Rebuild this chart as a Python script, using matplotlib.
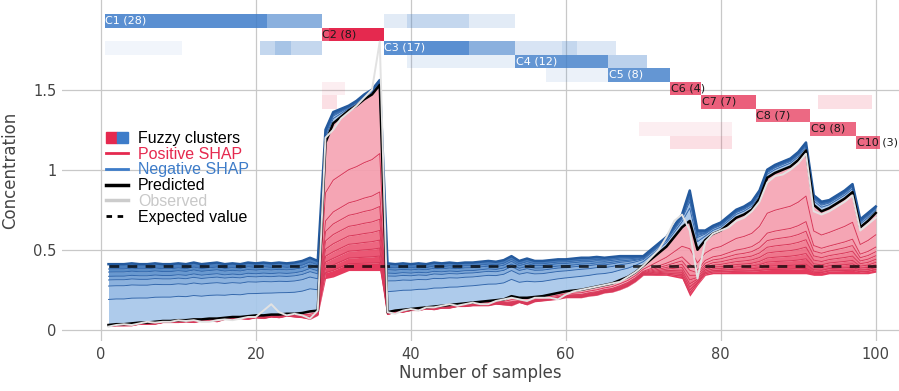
import numpy as np
import matplotlib
matplotlib.use("Agg")
import matplotlib.pyplot as plt
from matplotlib.lines import Line2D
from matplotlib.patches import Patch
from matplotlib.legend_handler import HandlerTuple
from matplotlib.colors import to_rgba

# ---- data ----
samples = np.arange(1, 101)
expected_value = 0.40

predicted = [
    # 1-28
    0.03, 0.035, 0.035, 0.04, 0.045, 0.045, 0.05, 0.055, 0.055, 0.06,
    0.06, 0.065, 0.065, 0.07, 0.07, 0.075, 0.08, 0.08, 0.085, 0.09,
    0.09, 0.095, 0.095, 0.1, 0.1, 0.105, 0.115, 0.12,
    # 29-36
    1.17, 1.29, 1.33, 1.37, 1.40, 1.44, 1.47, 1.53,
    # 37-69
    0.11, 0.12, 0.125, 0.13, 0.135, 0.14, 0.145, 0.15, 0.155, 0.16,
    0.165, 0.17, 0.175, 0.18, 0.185, 0.19, 0.21, 0.2, 0.2, 0.205,
    0.21, 0.22, 0.23, 0.24, 0.245, 0.25, 0.26, 0.27, 0.28, 0.29,
    0.31, 0.33, 0.36,
    # 70-100
    0.40, 0.44, 0.48, 0.52, 0.58, 0.64, 0.68, 0.50, 0.56, 0.60,
    0.62, 0.66, 0.70, 0.72, 0.75, 0.82, 0.95, 0.98, 1.00, 1.02,
    1.06, 1.12, 0.78, 0.74, 0.76, 0.79, 0.82, 0.86, 0.64, 0.68, 0.73,
]

observed = [
    0.02, 0.03, 0.035, 0.03, 0.04, 0.05, 0.045, 0.05, 0.05, 0.06,
    0.055, 0.06, 0.05, 0.05, 0.06, 0.065, 0.06, 0.07, 0.08, 0.08,
    0.12, 0.16, 0.11, 0.09, 0.1, 0.09, 0.07, 0.12,
    1.2, 1.25, 1.32, 1.36, 1.40, 1.45, 1.5, 1.8,
    0.11, 0.10, 0.12, 0.13, 0.12, 0.14, 0.14, 0.15, 0.16, 0.15,
    0.16, 0.17, 0.16, 0.16, 0.18, 0.19, 0.2, 0.19, 0.18, 0.2,
    0.2, 0.2, 0.19, 0.22, 0.24, 0.25, 0.26, 0.27, 0.28, 0.29,
    0.3, 0.33, 0.36,
    0.40, 0.45, 0.50, 0.58, 0.68, 0.72, 0.62, 0.32, 0.55, 0.6,
    0.62, 0.64, 0.68, 0.7, 0.74, 0.8, 0.92, 0.96, 0.97, 1.0,
    1.04, 1.1, 0.74, 0.72, 0.74, 0.77, 0.8, 0.84, 0.62, 0.66, 0.7,
]

# total positive SHAP per sample (negative total = E + pos - pred)
positive_total = [
    0.01, 0.01, 0.01, 0.015, 0.01, 0.01, 0.015, 0.01, 0.01, 0.015,
    0.01, 0.02, 0.01, 0.015, 0.02, 0.01, 0.015, 0.01, 0.02, 0.015,
    0.02, 0.015, 0.02, 0.015, 0.02, 0.03, 0.05, 0.03,
    0.85, 0.96, 0.98, 1.00, 1.03, 1.07, 1.10, 1.16,
    0.015, 0.01, 0.015, 0.01, 0.015, 0.01, 0.02, 0.015, 0.02, 0.015,
    0.02, 0.02, 0.025, 0.03, 0.025, 0.035, 0.06, 0.03, 0.045, 0.03,
    0.03, 0.035, 0.04, 0.04, 0.045, 0.05, 0.05, 0.055, 0.05, 0.055,
    0.06, 0.06, 0.06,
    0.06, 0.10, 0.14, 0.18, 0.25, 0.32, 0.47, 0.22, 0.22, 0.25,
    0.27, 0.31, 0.35, 0.37, 0.40, 0.47, 0.60, 0.63, 0.65, 0.67,
    0.71, 0.77, 0.44, 0.40, 0.41, 0.44, 0.47, 0.51, 0.29, 0.33, 0.37,
]

# share of each feature layer in the stacks (from the prediction line outwards)
red_shares = [0.043, 0.035, 0.043, 0.043, 0.052, 0.06, 0.069, 0.078, 0.207, 0.37]
blue_shares = [0.42, 0.22, 0.10, 0.06, 0.07, 0.05, 0.08]

cluster_names = ["C1", "C2", "C3", "C4", "C5", "C6", "C7", "C8", "C9", "C10"]
cluster_counts = [28, 8, 17, 12, 8, 4, 7, 7, 8, 3]
cluster_positive = [False, True, False, False, False, True, True, True, True, True]
cluster_label_at = [1, 29, 37, 54, 66, 74, 78, 85, 92, 98]
# fuzzy membership: (first sample, last sample, membership)
cluster_segments = [
    [(1, 21, 0.85), (22, 28, 0.6), (37, 39, 0.15), (40, 47, 0.3), (48, 53, 0.15)],
    [(29, 29, 0.8), (30, 36, 1.0)],
    [(1, 10, 0.07), (21, 22, 0.3), (23, 24, 0.45), (25, 28, 0.3), (37, 47, 0.85),
     (48, 53, 0.6), (54, 59, 0.2), (60, 61, 0.3), (62, 66, 0.18)],
    [(40, 53, 0.12), (54, 65, 0.8), (66, 70, 0.35)],
    [(58, 65, 0.1), (66, 73, 0.8)],
    [(29, 31, 0.08), (74, 77, 0.75)],
    [(29, 30, 0.15), (78, 84, 0.75), (93, 99, 0.15)],
    [(85, 91, 0.7)],
    [(70, 81, 0.08), (92, 97, 0.7)],
    [(74, 81, 0.15), (98, 100, 0.7)],
]

# ---- styling ----
RED = "#e5294f"
BLUE = "#3d7cc9"
red_colors = ["#e3294f", "#e63a5c", "#e94a69", "#ec5a76", "#ee6a82",
              "#f0788e", "#f2879a", "#f495a6", "#f59eae", "#f6a5b4"]
blue_colors = ["#a7c7ea", "#94b9e3", "#82acdc", "#6f9ed4", "#5c90cc",
               "#4a82c3", "#3a73b8"]

plt.rcParams["font.family"] = ["DejaVu Sans"]

pred = np.array(predicted)
obs = np.array(observed)
pos = np.array(positive_total)
neg = expected_value + pos - pred

fig = plt.figure(figsize=(8.99, 3.91), dpi=100)
ax = fig.add_axes([62 / 899, 50 / 391, 837 / 899, 341 / 391])

# positive stack: from (pred - pos) up to pred
lower = pred - pos
for share, col in zip(red_shares, red_colors):
    upper = lower + pos * share
    ax.fill_between(samples, lower, upper, color=col, lw=0, alpha=0.92, zorder=2)
    ax.plot(samples, upper, color="#d8395a", lw=0.7, zorder=2.5)
    lower = upper

# negative stack: from pred up to pred + neg
lower = pred.copy()
for share, col in zip(blue_shares, blue_colors):
    upper = lower + neg * share
    ax.fill_between(samples, lower, upper, color=col, lw=0, alpha=0.92, zorder=2)
    ax.plot(samples, upper, color="#3569ad", lw=0.7, zorder=2.5)
    lower = upper
ax.plot(samples, lower, color="#245a9e", lw=1.8, zorder=2.6)

ax.plot(samples, np.full(len(samples), expected_value), color="black",
        ls=(0, (3.5, 3)), lw=2, alpha=0.75, zorder=3)
ax.plot(samples, pred, color="black", lw=1.8, zorder=4)
ax.plot(samples, obs, color="#e2e2e2", lw=1.4, zorder=5)

# fuzzy cluster heatmap
row_h = 0.0844
row_top = 1.972
for k, name in enumerate(cluster_names):
    base = BLUE if not cluster_positive[k] else RED
    xs, cols = [], []
    for first, last, level in cluster_segments[k]:
        for s in range(first, last + 1):
            xs.append(s)
            cols.append(to_rgba(base, level))
    bottom = row_top - (k + 1) * row_h
    ax.bar(xs, row_h, bottom=bottom, width=1.0, color=cols, lw=0, zorder=1.5)
    ax.text(cluster_label_at[k] - 0.4, bottom + row_h / 2,
            f"{name} ({cluster_counts[k]})", fontsize=8, va="center", ha="left",
            color="white" if not cluster_positive[k] else "#1a1a1a", zorder=6,
            clip_on=False)

ax.set_xlim(-5, 103)
ax.set_ylim(-0.07, 2.06)
ax.set_xticks([0, 20, 40, 60, 80, 100])
ax.set_yticks([0, 0.5, 1, 1.5])
ax.set_yticklabels(["0", "0.5", "1", "1.5"])
ax.tick_params(length=0, labelsize=10.5, labelcolor="#444444", pad=4)
for sp in ax.spines.values():
    sp.set_visible(False)
ax.grid(True, color="#c8c8c8", lw=0.9)
ax.set_axisbelow(True)
ax.set_xlabel("Number of samples", fontsize=12, color="#444444", labelpad=2)
ax.set_ylabel("Concentration", fontsize=12, color="#444444", labelpad=10)

handles = [
    (Patch(color=RED), Patch(color=BLUE)),
    Line2D([], [], color=RED, lw=2),
    Line2D([], [], color=BLUE, lw=2),
    Line2D([], [], color="black", lw=2.5),
    Line2D([], [], color="#cccccc", lw=2.5),
    Line2D([], [], color="black", lw=2, ls=(0, (2, 2))),
]
labels = ["Fuzzy clusters", "Positive SHAP", "Negative SHAP", "Predicted",
          "Observed", "Expected value"]
leg = ax.legend(handles, labels, loc="upper left", bbox_to_anchor=(0.045, 0.635),
                frameon=False, labelspacing=0.05, handlelength=1.4,
                handletextpad=0.6, borderaxespad=0,
                handler_map={tuple: HandlerTuple(ndivide=None, pad=0)},
                prop={"family": "Liberation Sans", "size": 11.5})
for txt, c in zip(leg.get_texts(), ["black", RED, BLUE, "black", "#c8c8c8", "black"]):
    txt.set_color(c)
leg.set_zorder(7)

fig.savefig("out.png", dpi=100)
